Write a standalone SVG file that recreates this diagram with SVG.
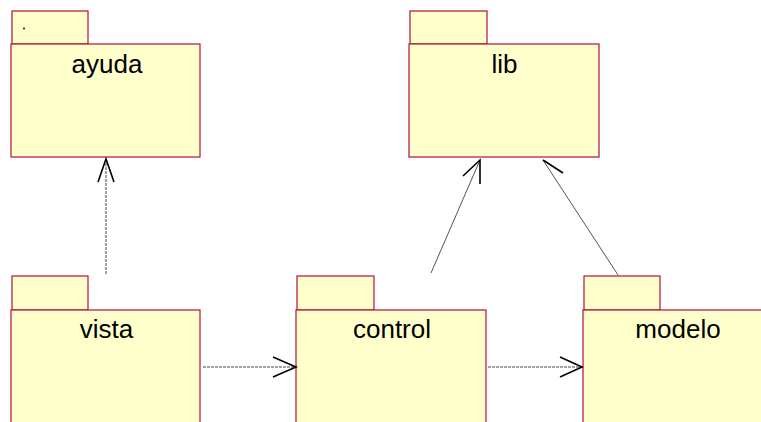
<svg xmlns="http://www.w3.org/2000/svg" width="761" height="422" viewBox="0 0 761 422">
<style>
.pk{fill:#ffffcc;stroke:#b0103f;stroke-width:1.2}
.lb{font-family:"Liberation Sans",Arial,sans-serif;font-size:26px;fill:#000;text-anchor:middle}
.dash{stroke:#444;stroke-width:1;stroke-dasharray:3,1;fill:none}
.solid{stroke:#555;stroke-width:1;fill:none}
.head{stroke:#000;stroke-width:1.6;fill:none}
</style>
<rect width="761" height="422" fill="#fff"/>
<g id="ayuda">
<rect class="pk" x="12" y="11" width="76" height="33"/>
<rect class="pk" x="11" y="44" width="189" height="113"/>
<circle cx="24" cy="28.5" r="0.9" fill="#000"/>
<text class="lb" x="107" y="73">ayuda</text>
</g>
<g id="lib">
<rect class="pk" x="410" y="11" width="77" height="33"/>
<rect class="pk" x="409" y="44" width="190" height="113"/>
<text class="lb" x="504.5" y="73">lib</text>
</g>
<g id="vista">
<rect class="pk" x="12" y="276" width="76" height="34"/>
<rect class="pk" x="11" y="310" width="189" height="120"/>
<text class="lb" x="106.5" y="338">vista</text>
</g>
<g id="control">
<rect class="pk" x="297" y="276" width="77" height="34"/>
<rect class="pk" x="296" y="310" width="190" height="120"/>
<text class="lb" x="392" y="338">control</text>
</g>
<g id="modelo">
<rect class="pk" x="584" y="276" width="76" height="34"/>
<rect class="pk" x="583" y="310" width="190" height="120"/>
<text class="lb" x="678" y="338">modelo</text>
</g>
<g id="connectors">
<line class="dash" x1="106" y1="274" x2="106" y2="159"/>
<path class="head" d="M98,182 L106,159 L114,182"/>
<line class="solid" x1="431" y1="273" x2="480" y2="160"/>
<path class="head" d="M463,176 L480,160 L480,184"/>
<line class="solid" x1="618" y1="275" x2="543" y2="160"/>
<path class="head" d="M563,173 L543,160"/>
<line class="dash" x1="203" y1="367" x2="296" y2="367"/>
<path class="head" d="M273,357 L296,367 L273,377"/>
<line class="dash" x1="488" y1="367" x2="582" y2="367"/>
<path class="head" d="M560,357 L582,367 L560,377"/>
</g>
</svg>
